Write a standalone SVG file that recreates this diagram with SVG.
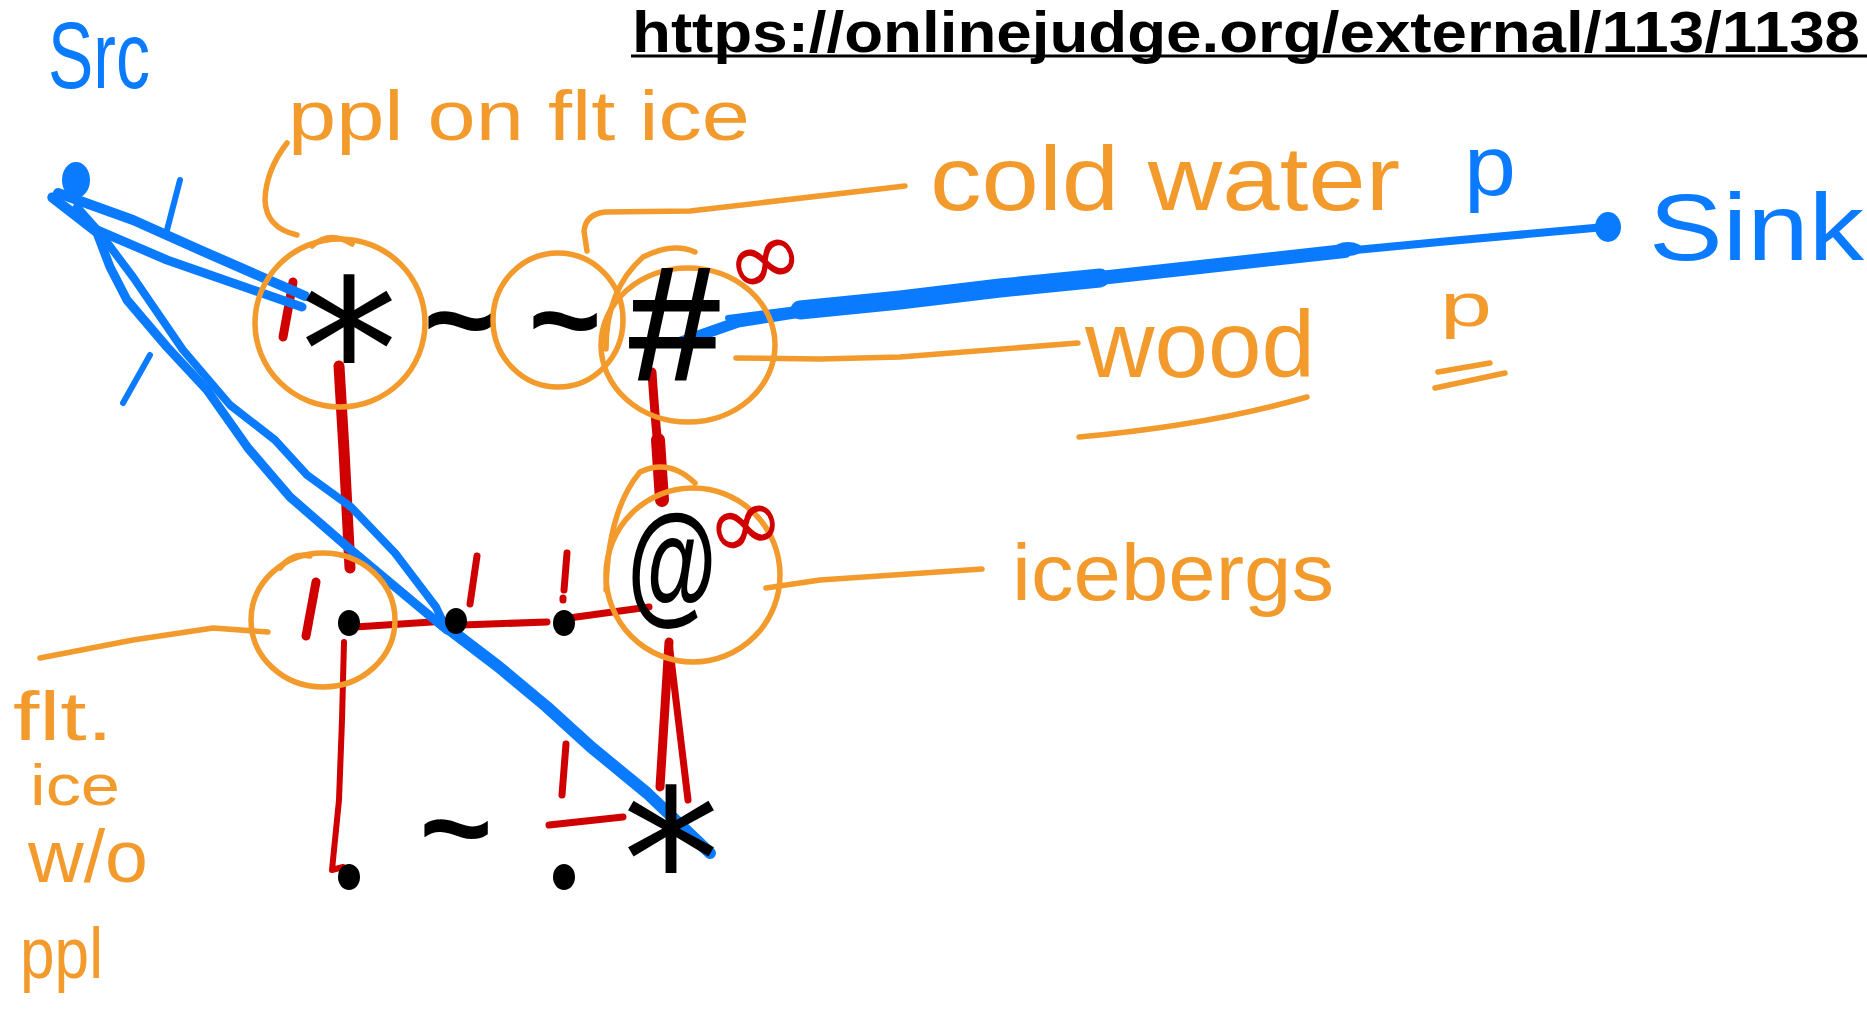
<svg xmlns="http://www.w3.org/2000/svg" width="1867" height="1019" viewBox="0 0 1867 1019">
<style>
.o{stroke:#F39A2C;fill:none;stroke-width:5.5;stroke-linecap:round;stroke-linejoin:round}
.b{stroke:#0A7BFF;fill:none;stroke-linecap:round;stroke-linejoin:round}
.r{stroke:#D00000;fill:none;stroke-linecap:round;stroke-linejoin:round}
.ho{fill:#F39A2C;font-family:"Liberation Sans",Arial,sans-serif}
.hb{fill:#0A7BFF;font-family:"Liberation Sans",Arial,sans-serif}
.sym{fill:#000;font-family:"Liberation Sans",Arial,sans-serif}
.ast{fill:#000;font-family:"DejaVu Sans",sans-serif}
.inf{fill:#D00000;font-family:"DejaVu Sans",sans-serif}
.dot{fill:#000}
</style>
<rect width="1867" height="1019" fill="#fff"/>

<g id="url">
<text x="632" y="52" font-family="Liberation Sans,Arial,sans-serif" font-weight="bold" font-size="57" textLength="1228" lengthAdjust="spacingAndGlyphs" fill="#000">https://onlinejudge.org/external/113/1138</text>
<line x1="631" y1="56" x2="1867" y2="56" stroke="#000" stroke-width="3"/>
</g>

<g id="connectors">
<!-- orange leaders -->
<path class="o" d="M587,251 L584,231 Q586,214 605,212 L690,211 L905,186"/>
<path class="o" d="M736,358 L820,359 L900,357 L1078,343"/>
<path class="o" d="M766,588 L820,580 L982,569"/>
<path class="o" d="M40,658 L133,640 L213,628 L268,632"/>
<path class="o" d="M287,143 Q266,170 265,200 Q266,228 297,235"/>
<!-- red edges -->
<path class="r" stroke-width="11" d="M339,366 L344,450 L350,568"/>
<path class="r" stroke-width="9" d="M652,372 C655,420 659,460 663,500"/>
<path class="r" stroke-width="14" d="M658,440 L662,500"/>
<path class="r" stroke-width="6" d="M344,642 L342,720 L339,800 L332,870 L343,867"/>
<path class="r" stroke-width="7" d="M355,627 L447,621"/>
<path class="r" stroke-width="7" d="M462,625 L547,622"/>
<path class="r" stroke-width="7" d="M569,618 L649,607"/>
<path class="r" stroke-width="9" d="M669,642 L660,787"/>
<path class="r" stroke-width="7" d="M669,642 L688,800"/>
<path class="r" stroke-width="7" d="M549,825 L623,817"/>
<path class="r" stroke-width="9" d="M293,282 L283,337"/>
<path class="r" stroke-width="9" d="M316,582 L306,636"/>
<path class="r" stroke-width="7" d="M477,556 L470,604"/>
<path class="r" stroke-width="7" d="M567,553 L564,590 M563,598 L563,600"/>
<path class="r" stroke-width="7" d="M566,744 L562,795"/>
<!-- blue source edges -->
<path class="b" stroke-width="10" d="M58,193 L133,220 L200,250 L305,296"/>
<path class="b" stroke-width="9" d="M52,197 L97,230 L167,260 L302,307"/>
<path class="b" stroke-width="9" d="M52,198 L97,233 L110,267 L127,300 L167,347 L207,390 L248,448 L290,497 L351,550 L418,606 L447,630"/>
<path class="b" stroke-width="8" d="M77,207 L100,233 L133,277 L183,350 L230,405 L275,440 L307,475 L351,507 L395,553 L436,607 L447,630"/>
<path class="b" stroke-width="12" d="M440,622 L499,667 L547,707 L591,747 L647,793 L710,853"/>
<path class="b" stroke-width="6" d="M180,180 L167,230 M150,355 L123,403"/>
<!-- blue sink edge -->
<path class="b" stroke-width="11" d="M681,342 L738,322 L833,307"/>
<path class="b" stroke-width="6" d="M728,318 L820,306"/>
<path class="b" stroke-width="19" d="M800,310 L900,300 L1000,288 L1100,278"/>
<path class="b" stroke-width="14" d="M1100,278 L1191,268 L1345,251"/>
<path class="b" stroke-width="8" d="M1345,251 L1450,241 L1605,227"/>
<ellipse cx="1348" cy="249" rx="14" ry="7" fill="#0A7BFF"/>
</g>

<g id="node-src">
<ellipse cx="76" cy="180" rx="14" ry="18" fill="#0A7BFF"/>
<text class="hb" x="48" y="88" font-size="95" textLength="102" lengthAdjust="spacingAndGlyphs">Src</text>
</g>

<g id="node-sink">
<ellipse cx="1608" cy="227" rx="13" ry="15" fill="#0A7BFF"/>
<text class="hb" x="1649" y="260" font-size="95" textLength="215" lengthAdjust="spacingAndGlyphs">Sink</text>
</g>

<g id="cell-r0c0">
<ellipse class="o" cx="340" cy="323" rx="85" ry="84"/>
<path class="o" d="M312,246 Q330,230 352,244"/>
<text class="ast" x="349" y="419" font-size="195" text-anchor="middle">*</text>
</g>
<g id="cell-r0c1">
<text class="sym" x="460" y="362" font-size="125" font-weight="bold" text-anchor="middle">~</text>
</g>
<g id="cell-r0c2">
<ellipse class="o" cx="558" cy="320" rx="65" ry="67"/>
<text class="sym" x="565" y="362" font-size="125" font-weight="bold" text-anchor="middle">~</text>
</g>
<g id="cell-r0c3">
<ellipse class="o" cx="688" cy="345" rx="87" ry="77"/>
<path class="o" d="M606,349 Q606,290 643,257 Q673,242 695,252"/>
<text class="sym" x="672" y="379" font-size="160" font-style="italic" stroke="#000" stroke-width="3" text-anchor="middle">#</text>
<text class="inf" x="768" y="290" font-size="95" text-anchor="middle" transform="rotate(-20 768 270)">∞</text>
</g>
<g id="cell-r1c0">
<ellipse class="o" cx="323" cy="620" rx="72" ry="67"/>
<path class="o" d="M280,568 Q292,552 310,556"/>
<ellipse class="dot" cx="349" cy="623" rx="11" ry="13"/>
</g>
<g id="cell-r1c1">
<ellipse class="dot" cx="456" cy="621" rx="11" ry="13"/>
</g>
<g id="cell-r1c2">
<ellipse class="dot" cx="564" cy="623" rx="11" ry="13"/>
</g>
<g id="cell-r1c3">
<ellipse class="o" cx="693" cy="575" rx="87" ry="87"/>
<path class="o" d="M606,590 Q608,510 640,472 Q669,458 695,483"/>
<text class="sym" font-size="133" font-weight="bold" text-anchor="middle" transform="translate(672,608) scale(0.69,1)">@</text>
<text class="inf" x="747" y="555" font-size="95" text-anchor="middle" transform="rotate(-15 747 532)">∞</text>
</g>
<g id="cell-r2c0">
<ellipse class="dot" cx="349" cy="877" rx="11" ry="13"/>
</g>
<g id="cell-r2c1">
<text class="sym" x="456" y="870" font-size="125" font-weight="bold" text-anchor="middle">~</text>
</g>
<g id="cell-r2c2">
<ellipse class="dot" cx="564" cy="877" rx="11" ry="13"/>
</g>
<g id="cell-r2c3">
<text class="ast" x="671" y="929" font-size="195" text-anchor="middle">*</text>
</g>

<g id="labels">
<text class="ho" x="288" y="140" font-size="70" textLength="462" lengthAdjust="spacingAndGlyphs">ppl on flt ice</text>
<text class="ho" x="930" y="210" font-size="90" textLength="470" lengthAdjust="spacingAndGlyphs">cold water</text>
<text class="hb" x="1464" y="195" font-size="85" textLength="52" lengthAdjust="spacingAndGlyphs">p</text>
<text class="ho" x="1085" y="377" font-size="95" textLength="230" lengthAdjust="spacingAndGlyphs">wood</text>
<path class="o" d="M1079,437 Q1210,425 1307,397"/>
<text class="ho" x="1440" y="326" font-size="62" textLength="52" lengthAdjust="spacingAndGlyphs">p</text>
<path class="o" d="M1438,372 L1490,363 M1435,388 L1505,373"/>
<text class="ho" x="1012" y="600" font-size="80" textLength="322" lengthAdjust="spacingAndGlyphs">icebergs</text>
<text class="ho" x="13" y="740" font-size="68" textLength="100" lengthAdjust="spacingAndGlyphs">flt.</text>
<text class="ho" x="30" y="805" font-size="58" textLength="90" lengthAdjust="spacingAndGlyphs">ice</text>
<text class="ho" x="28" y="882" font-size="75" textLength="120" lengthAdjust="spacingAndGlyphs">w/o</text>
<text class="ho" x="20" y="978" font-size="72" textLength="83" lengthAdjust="spacingAndGlyphs">ppl</text>
</g>
</svg>
